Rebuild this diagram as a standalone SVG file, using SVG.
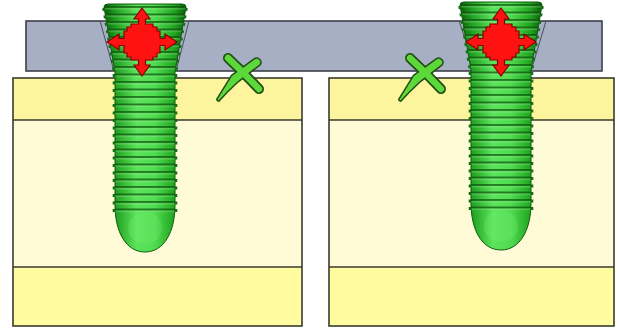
<svg xmlns="http://www.w3.org/2000/svg" xmlns:xlink="http://www.w3.org/1999/xlink" width="620" height="329" viewBox="0 0 620 329">
  <style>
    .band-top { fill: #fdf59e; }
    .band-mid { fill: #fffbd6; }
    .band-bot { fill: #fefc9e; }
    .edge { fill: none; stroke: #3a3a30; stroke-width: 1.6; }
    .plate { fill: #a6afc3; stroke: #3c4048; stroke-width: 1.6; }
    .hole { fill: none; stroke: #4a4f58; stroke-width: 1; }
    .cross { fill: #ff1212; stroke: #8a0000; stroke-width: 1.2; stroke-linejoin: miter; }
    .x-outline { fill: none; stroke: #234d14; }
    .x-fill { fill: #5cd83a; stroke: none; }
  </style>
  <defs>
    <linearGradient id="shaftGrad" x1="0" y1="0" x2="1" y2="0">
      <stop offset="0" stop-color="#0a5e0a"/>
      <stop offset="0.14" stop-color="#1f9e1f"/>
      <stop offset="0.4" stop-color="#5ce45c"/>
      <stop offset="0.62" stop-color="#4fdc4f"/>
      <stop offset="0.86" stop-color="#20a420"/>
      <stop offset="1" stop-color="#0a5a0a"/>
    </linearGradient>
    <pattern id="thread" patternUnits="userSpaceOnUse" x="0" y="6" width="12" height="7.5">
      <rect x="0" y="0" width="12" height="2" fill="#0a520a" opacity="0.7"/>
      <rect x="0" y="2" width="12" height="1.4" fill="#c4ffbc" opacity="0.3"/>
    </pattern>
    <clipPath id="screwClip">
      <path d="M -41 7 Q -41 4 -37 4 L 37 4 Q 41 4 41 7 L 30 72 L 30 205 C 30 232 19 252 0 252 C -19 252 -30 232 -30 205 L -30 72 Z"/>
    </clipPath>
    <!-- threaded screw, centred on x = 0 -->
    <g id="screw">
      <path d="M -41 7 Q -41 4 -37 4 L 37 4 Q 41 4 41 7 L 30 72 L 30 205 C 30 232 19 252 0 252 C -19 252 -30 232 -30 205 L -30 72 Z" fill="url(#shaftGrad)" stroke="#0d5a0d" stroke-width="1"/>
      <ellipse cx="0" cy="228" rx="17" ry="16" fill="#7ef07a" opacity="0.25" clip-path="url(#screwClip)"/>
      <rect x="-45" y="4" width="90" height="211" fill="url(#thread)" clip-path="url(#screwClip)"/>
      <path d="M -31 74 V 213 M 31 74 V 213 M -41.5 8 L -31 72 M 41.5 8 L 31 72" fill="none" stroke="#107010" stroke-width="2.6" stroke-dasharray="3 4.5"/>
    </g>
    <!-- red drive recess with four arrow tips, centred on 0,0 -->
    <path id="drive" class="cross" d="M 0 -34 L 8 -23 L 3.5 -23 L 3.5 -18 L 11 -18 L 11 -15 L 15 -15 L 15 -11 L 18 -11 L 18 -3.5 L 23 -3.5 L 23 -8 L 35 0 L 23 8 L 23 3.5 L 18 3.5 L 18 11 L 15 11 L 15 15 L 11 15 L 11 18 L 3.5 18 L 3.5 23 L 8 23 L 0 34 L -8 23 L -3.5 23 L -3.5 18 L -11 18 L -11 15 L -15 15 L -15 11 L -18 11 L -18 3.5 L -23 3.5 L -23 8 L -35 0 L -23 -8 L -23 -3.5 L -18 -3.5 L -18 -11 L -15 -11 L -15 -15 L -11 -15 L -11 -18 L -3.5 -18 L -3.5 -23 L -8 -23 Z"/>
    <!-- green cross mark -->
    <g id="xmark">
      <path class="x-outline" stroke-width="10" stroke-linecap="round" d="M 228 58 Q 243 72 259 89"/>
      <path class="x-outline" stroke-width="3" stroke-linejoin="round" d="M 254.6 59.5 A 3.5 3.5 0 0 1 259.4 64.5 L 238 81 Q 227 91 218.5 100.5 L 217.5 99.5 Q 224 89 232 76 Z"/>
      <path fill="none" stroke="#5cd83a" stroke-width="6.5" stroke-linecap="round" d="M 228 58 Q 243 72 259 89"/>
      <path class="x-fill" d="M 254.6 59.5 A 3.5 3.5 0 0 1 259.4 64.5 L 238 81 Q 227 91 218.5 100.5 L 217.5 99.5 Q 224 89 232 76 Z"/>
    </g>
  </defs>

  <rect width="620" height="329" fill="#ffffff"/>

  <!-- bone blocks -->
  <g id="block-left">
    <rect class="band-mid" x="13" y="78" width="289" height="248"/>
    <rect class="band-top" x="13" y="78" width="289" height="42"/>
    <rect class="band-bot" x="13" y="267" width="289" height="59"/>
    <rect class="edge" x="13" y="78" width="289" height="248"/>
    <path class="edge" d="M 13 120 H 302 M 13 267 H 302"/>
  </g>
  <g id="block-right">
    <rect class="band-mid" x="329" y="78" width="285" height="248"/>
    <rect class="band-top" x="329" y="78" width="285" height="42"/>
    <rect class="band-bot" x="329" y="267" width="285" height="59"/>
    <rect class="edge" x="329" y="78" width="285" height="248"/>
    <path class="edge" d="M 329 120 H 614 M 329 267 H 614"/>
  </g>

  <!-- plate with countersunk holes -->
  <g id="plate">
    <rect class="plate" x="26" y="21" width="576" height="50"/>
    <path class="hole" d="M 100 21 L 114 71 M 189 21 L 176 71"/>
    <path class="hole" d="M 459 21 L 476 71 M 546 21 L 531 71"/>
  </g>

  <!-- screws -->
  <g id="screw-left">
    <use xlink:href="#screw" transform="translate(145 0)"/>
    <use xlink:href="#drive" transform="translate(142 42)"/>
  </g>
  <g id="screw-right">
    <use xlink:href="#screw" transform="translate(501 -2)"/>
    <use xlink:href="#drive" transform="translate(501 42)"/>
  </g>

  <!-- cross marks -->
  <g id="mark-left">
    <use xlink:href="#xmark"/>
  </g>
  <g id="mark-right">
    <use xlink:href="#xmark" transform="translate(182 0)"/>
  </g>
</svg>
